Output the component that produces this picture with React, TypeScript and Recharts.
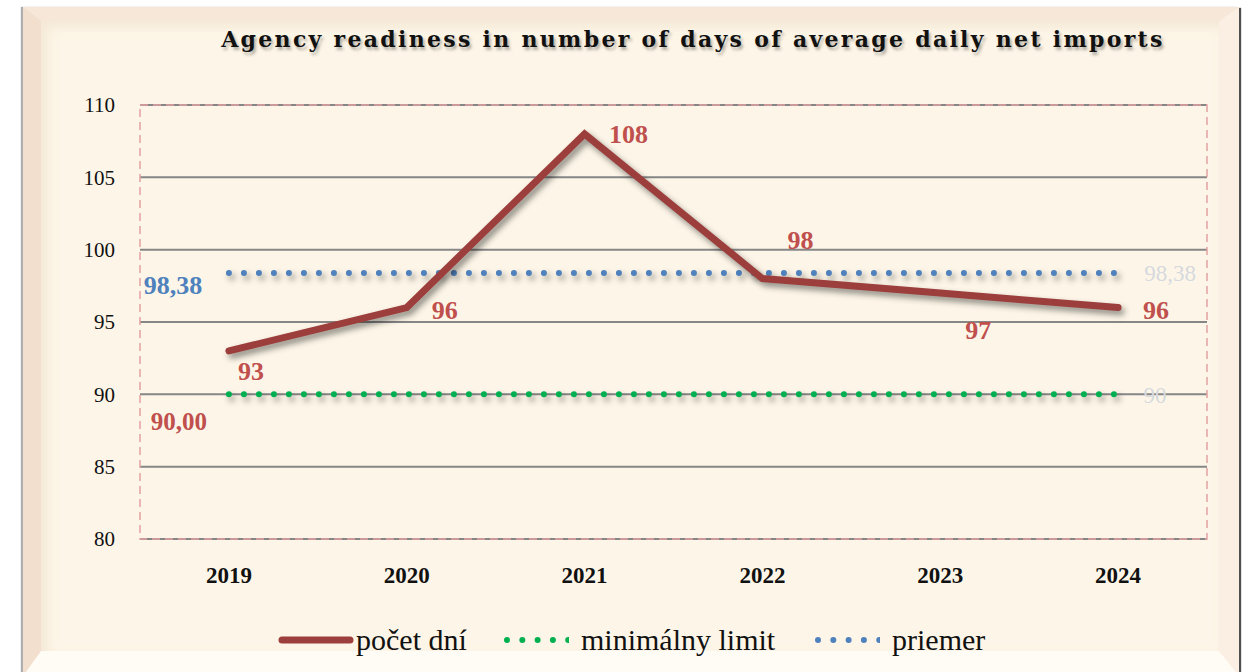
import React from 'react';
import { LineChart, Line, XAxis, YAxis, CartesianGrid, ReferenceArea } from 'recharts';

const categories = ['2019', '2020', '2021', '2022', '2023', '2024'];
const pocetDni = [93, 96, 108, 98, 97, 96];
const minimalnyLimit = [90, 90, 90, 90, 90, 90];
const priemer = [98.38, 98.38, 98.38, 98.38, 98.38, 98.38];
const yTicks = [80, 85, 90, 95, 100, 105, 110];
const seriesNames = ['počet dní', 'minimálny limit', 'priemer'];
const chartTitle = 'Agency readiness in number of days of average daily net imports';

const data = categories.map((c, i) => ({
  year: c,
  pocet: pocetDni[i],
  limit: minimalnyLimit[i],
  priemer: priemer[i],
}));

const RED = '#9c3e3c';
const LABEL_RED = '#c0504d';
const BLUE = '#4f81bd';
const GREEN = '#00b050';
const PALE = '#d6d9de';
const FONT = '"Liberation Serif", "DejaVu Serif", serif';

const redOffsets: [number, number][] = [
  [22, 21], [38, 3], [44, 1], [38, -38], [38, 37], [38, 3],
];

const fmt = (v: number, d: number) => v.toFixed(d).replace('.', ',');

const redLabel = (p: any) => {
  const o = redOffsets[p.index] || [0, 0];
  return (
    <text key={`r${p.index}`} x={p.x + o[0]} y={p.y + o[1]} textAnchor="middle" dominantBaseline="central"
      fill={LABEL_RED} fontFamily={FONT} fontWeight="bold" fontSize={26}>
      {p.value}
    </text>
  );
};

const greenLabel = (p: any) => {
  if (p.index === 0) {
    return (
      <text key="g0" x={p.x - 50} y={p.y + 27} textAnchor="middle" dominantBaseline="central"
        fill={LABEL_RED} fontFamily={FONT} fontWeight="bold" fontSize={25}>
        {fmt(p.value, 2)}
      </text>
    );
  }
  if (p.index === data.length - 1) {
    return (
      <text key="g5" x={p.x + 37} y={p.y + 1} textAnchor="middle" dominantBaseline="central"
        fill={PALE} fontFamily={FONT} fontSize={23}>
        {String(p.value)}
      </text>
    );
  }
  return <g key={`g${p.index}`} />;
};

const blueLabel = (p: any) => {
  if (p.index === 0) {
    return (
      <text key="b0" x={p.x - 56} y={p.y + 12} textAnchor="middle" dominantBaseline="central"
        fill={BLUE} fontFamily={FONT} fontWeight="bold" fontSize={26}>
        {fmt(p.value, 2)}
      </text>
    );
  }
  if (p.index === data.length - 1) {
    return (
      <text key="b5" x={p.x + 52} y={p.y} textAnchor="middle" dominantBaseline="central"
        fill={PALE} fontFamily={FONT} fontSize={23}>
        {fmt(p.value, 2)}
      </text>
    );
  }
  return <g key={`b${p.index}`} />;
};

const LegendItem = ({ kind, color, label, left }: { kind: 'line' | 'dots'; color: string; label: string; left: number }) => (
  <div style={{ position: 'absolute', left, top: 622, height: 36, display: 'flex', alignItems: 'center' }}>
    <svg width={kind === 'line' ? 76 : 66} height={12} style={{ marginRight: kind === 'line' ? 2 : 12 }}>
      {kind === 'line' ? (
        <line x1={4} y1={6} x2={72} y2={6} stroke={color} strokeWidth={7} strokeLinecap="round" />
      ) : (
        [0, 1, 2, 3, 4].map((i) => <circle key={i} cx={4 + i * 15.3} cy={6} r={3} fill={color} />)
      )}
    </svg>
    <span style={{ fontFamily: FONT, fontSize: 30, color: '#111', whiteSpace: 'nowrap' }}>{label}</span>
  </div>
);

export default function App() {
  return (
    <div style={{ position: 'absolute', left: 0, top: 0, width: 1248, height: 672, background: '#ffffff', overflow: 'hidden' }}>
      <style>{`
        .recharts-line-curve { filter: drop-shadow(3px 4px 3px rgba(0,0,0,0.45)); }
      `}</style>
      <div
        style={{
          position: 'absolute', left: 23, top: 7, width: 1216, height: 669, boxSizing: 'border-box',
          background: '#fdf6e8',
          borderTop: '14px solid #f6e7d8', borderLeft: '18px solid #f2dfcd',
          borderRight: '20px solid #fbefe3', borderBottom: '25px solid #fffcf6',
          boxShadow: '2px 1px 1px rgba(60,60,60,0.9), -2px 0 1px rgba(140,140,140,0.7), inset 6px 6px 12px rgba(230,205,180,0.35)',
        }}
      />
      <div
        style={{
          position: 'absolute', left: 0, width: 1248, top: 26, textAlign: 'center', paddingLeft: 138,
          boxSizing: 'border-box', fontFamily: '"DejaVu Serif", serif', fontWeight: 'bold', fontSize: 22,
          letterSpacing: 2.3, color: '#111', textShadow: '2px 3px 3px rgba(0,0,0,0.3)', whiteSpace: 'nowrap',
        }}
      >
        {chartTitle}
      </div>
      <div style={{ position: 'absolute', left: 0, top: 0 }}>
        <LineChart width={1248} height={672} data={data} margin={{ top: 105, right: 41, bottom: 83, left: 80 }}>
          <CartesianGrid horizontal vertical={false} stroke="#868686" strokeWidth={2} />
          <ReferenceArea y1={80} y2={110} fill="none" stroke="#e3a1a1" strokeWidth={1.5} strokeDasharray="8 5" ifOverflow="visible" />
          <XAxis dataKey="year" scale="band" axisLine={false} tickLine={false} tickSize={0} tickMargin={28} height={50}
            tick={{ fontFamily: FONT, fontSize: 23, fill: '#111', fontWeight: 'bold' }} interval={0} />
          <YAxis domain={[80, 110]} ticks={yTicks} axisLine={false} tickLine={false} tickSize={0} tickMargin={25} width={60}
            tick={{ fontFamily: FONT, fontSize: 21, fill: '#111' }} />
          <Line dataKey="limit" name={seriesNames[1]} stroke={GREEN} strokeWidth={6} strokeDasharray="0 15" strokeLinecap="round"
            dot={false} activeDot={false} isAnimationActive={false} label={greenLabel} />
          <Line dataKey="priemer" name={seriesNames[2]} stroke={BLUE} strokeWidth={6} strokeDasharray="0 15" strokeLinecap="round"
            dot={false} activeDot={false} isAnimationActive={false} label={blueLabel} />
          <Line dataKey="pocet" name={seriesNames[0]} stroke={RED} strokeWidth={7} strokeLinecap="round" strokeLinejoin="miter"
            dot={false} activeDot={false} isAnimationActive={false} label={redLabel} />
        </LineChart>
      </div>
      <LegendItem kind="line" color={RED} label={seriesNames[0]} left={278} />
      <LegendItem kind="dots" color={GREEN} label={seriesNames[1]} left={503} />
      <LegendItem kind="dots" color={BLUE} label={seriesNames[2]} left={814} />
    </div>
  );
}
